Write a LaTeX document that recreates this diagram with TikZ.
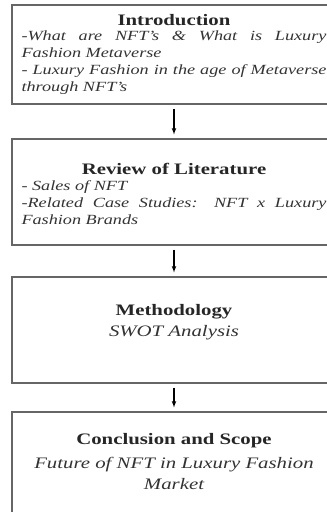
\documentclass[tikz,border=0pt]{standalone}
\usepackage{fontspec}
\setmainfont{Liberation Serif}[FakeStretch=1.3]
\usetikzlibrary{arrows,positioning}
\tikzset{
    stagebox/.style={draw=black!60, line width=1.2pt, rectangle, minimum width=324pt, inner sep=0pt},
    headtext/.style={inner sep=0pt, text=black!85, font=\bfseries\fontsize{16}{19}\selectfont},
    listtext/.style={inner sep=0pt, text=black!80, text width=305pt, align=justify,
        font=\itshape\fontsize{14}{17.3}\selectfont,
        execute at begin node={\hyphenpenalty=10000\relax}},
    midtext/.style={inner sep=0pt, text=black!80, align=center, font=\itshape\fontsize{16}{21}\selectfont},
    flow/.style={-latex, line width=1.1pt, shorten <=4pt, shorten >=4pt}
}
\begin{document}
\begin{tikzpicture}[x=1pt,y=-1pt]
        \clip (0,0) rectangle (327,512);
        \useasboundingbox (0,0) rectangle (327,512);

        % boxes
        \node[stagebox, minimum height=99pt]  (intro)  at (174,54.5) {};
        \node[stagebox, minimum height=106pt] (review) at (174,192)  {};
        \node[stagebox, minimum height=106pt] (method) at (174,330)  {};
        \node[stagebox, minimum height=118pt] (concl)  at (174,471)  {};

        % texts
        \node[headtext, below=10pt of intro.north] (introhead) {Introduction};
        \node[listtext, below=4pt of introhead] (introlist)
            {-What are NFT's \& What is Luxury Fashion Metaverse\\- Luxury Fashion in the age of Metaverse through NFT's};

        \node[headtext, below=25pt of review.north] (reviewhead) {Review of Literature};
        \node[listtext, below=5pt of reviewhead] (reviewlist)
            {- Sales of NFT\\-Related Case Studies: NFT x Luxury Fashion Brands};

        \node[headtext, below=28pt of method.north] (methodhead) {Methodology};
        \node[midtext, below=6pt of methodhead] (methodsub) {SWOT Analysis};

        \node[headtext, below=22pt of concl.north] (conclhead) {Conclusion and Scope};
        \node[midtext, below=9pt of conclhead] (conclsub) {Future of NFT in Luxury Fashion\\Market};

        % arrows
        \draw[flow] (intro)  to (review);
        \draw[flow] (review) to (method);
        \draw[flow] (method) to (concl);
    \end{tikzpicture}
\end{document}
